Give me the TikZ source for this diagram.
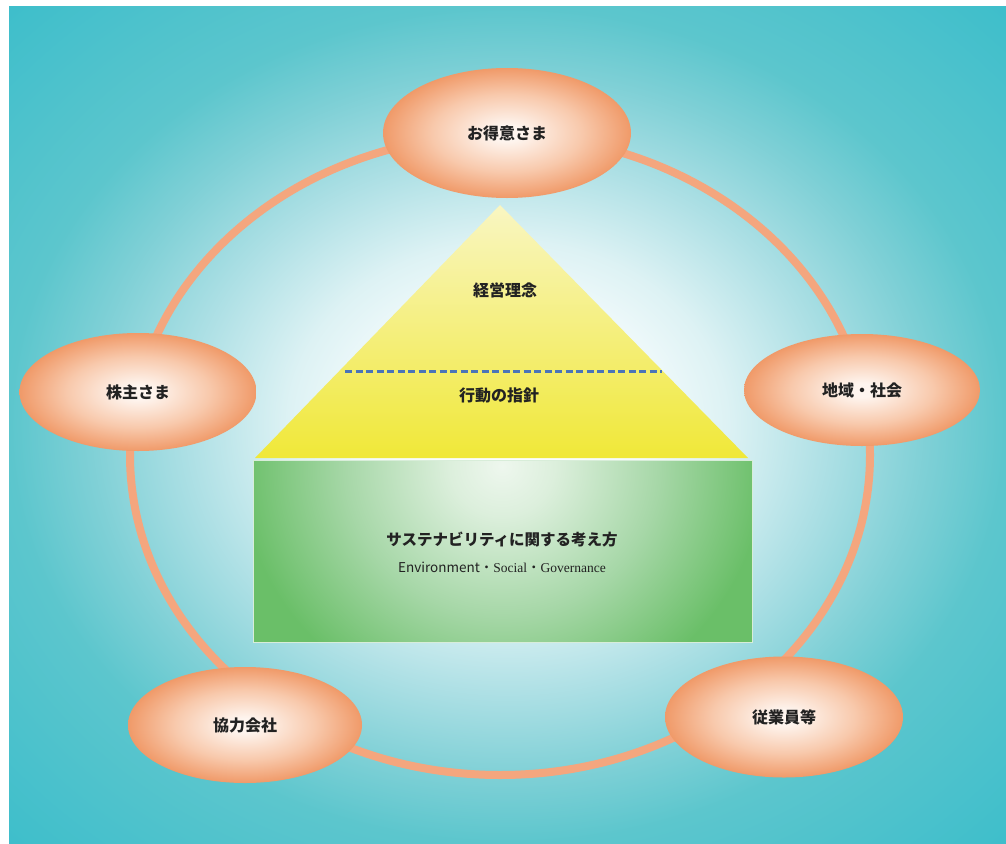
\documentclass[tikz,border=0pt]{standalone}
\usepackage{fontspec}
\setmainfont{Liberation Serif}
\newfontfamily\jp{Noto Sans CJK JP}
\usetikzlibrary{shapes.geometric}
\definecolor{bgA}{HTML}{F4FBFC}
\definecolor{bgB}{HTML}{DDF2F4}
\definecolor{bgC}{HTML}{AEE0E5}
\definecolor{bgD}{HTML}{7FD0D6}
\definecolor{bgE}{HTML}{5CC6CD}
\definecolor{bgF}{HTML}{3EBECB}
\definecolor{oA}{HTML}{FEF5EF}
\definecolor{oB}{HTML}{F8C9AC}
\definecolor{oC}{HTML}{F09A69}
\definecolor{ringc}{HTML}{F4A67E}
\definecolor{triTop}{HTML}{F9F6C2}
\definecolor{triMid}{HTML}{F7F194}
\definecolor{triBot}{HTML}{F0E838}
\definecolor{gA}{HTML}{EEF7EE}
\definecolor{gB}{HTML}{DCEFDC}
\definecolor{gC}{HTML}{A6D7A7}
\definecolor{gD}{HTML}{6ABF68}
\definecolor{dashc}{HTML}{4A74B8}
\definecolor{txt}{HTML}{222222}
\pgfdeclareradialshading{bgrad}{\pgfpoint{0bp}{0bp}}{color(0bp)=(white); color(7bp)=(bgA); color(11bp)=(bgB); color(16bp)=(bgC); color(21bp)=(bgD); color(25bp)=(bgE); color(35.4bp)=(bgF); color(50bp)=(bgF)}
\pgfdeclareradialshading{orad}{\pgfpoint{0bp}{0bp}}{color(0bp)=(oA); color(3bp)=(oA); color(15bp)=(oB); color(25bp)=(oC); color(50bp)=(oC)}
\pgfdeclareradialshading{grad}{\pgfpoint{0bp}{0bp}}{color(0bp)=(gA); color(5bp)=(gB); color(15bp)=(gC); color(25bp)=(gD); color(50bp)=(gD)}
\tikzset{
  stake/.style={ellipse, shade, shading=orad, inner sep=0pt, draw=none,
    font=\jp\bfseries\fontsize{16}{19}\selectfont, text=txt},
  label jp/.style={font=\jp\bfseries\fontsize{16}{19}\selectfont, text=txt, inner sep=1pt},
  ringline/.style={draw=ringc, line width=8pt},
  dashline/.style={draw=dashc, line width=3pt, dash pattern=on 7pt off 3.5pt}
}
\begin{document}
\begin{tikzpicture}[x=1pt,y=-1pt]
\useasboundingbox (0,0) rectangle (1006,843);
% background
\fill[white] (0,0) rectangle (1006,843);
\shade[shading=bgrad] (9,7) rectangle (1006,843);
% ring
\draw[ringline] (500,455) ellipse [x radius=370, y radius=320];
% pyramid
\coordinate (apex) at (500,205);
\coordinate (bl) at (255,458);
\coordinate (br) at (748,458);
\shade[top color=triTop, middle color=triMid, bottom color=triBot] (apex) -- (bl) -- (br) -- cycle;
\coordinate (dl) at (345,371);
\coordinate (dr) at (662,371);
\draw[dashline] (dl) -- (dr);
\node[label jp] (rinen) at (505,290) {経営理念};
\node[label jp] (shishin) at (499,395) {行動の指針};
% green base
\coordinate (g1) at (253,460);
\coordinate (g2) at (752,642);
\fill[gD] (g1) rectangle (g2);
\begin{scope}
  \clip (g1) rectangle (g2);
  \shade[shading=grad] (502,466) ellipse [x radius=262, y radius=250];
\end{scope}
\draw[draw=gA!70!gC, line width=1pt] (g1) rectangle (g2);
\node[label jp, font=\jp\bfseries\fontsize{15.5}{18}\selectfont] (sus) at (502,540) {サステナビリティに関する考え方};
\node[text=txt, inner sep=1pt] (esg) at (502,567) {{\jp\fontsize{13.5}{16}\selectfont Environment・}{\fontsize{13.5}{16}\selectfont Social}{\jp\fontsize{13.5}{16}\selectfont ・}{\fontsize{13.5}{16}\selectfont Governance}};
% stakeholders
\node[stake, minimum width=248pt, minimum height=130pt] (cust) at (507,133) {お得意さま};
\node[stake, minimum width=237pt, minimum height=118pt] (share) at (138,392) {株主さま};
\node[stake, minimum width=236pt, minimum height=112pt] (local) at (862,390) {地域・社会};
\node[stake, minimum width=234pt, minimum height=116pt] (supp) at (245,725) {協力会社};
\node[stake, minimum width=238pt, minimum height=121pt] (emp) at (784,717) {従業員等};
\end{tikzpicture}
\end{document}
